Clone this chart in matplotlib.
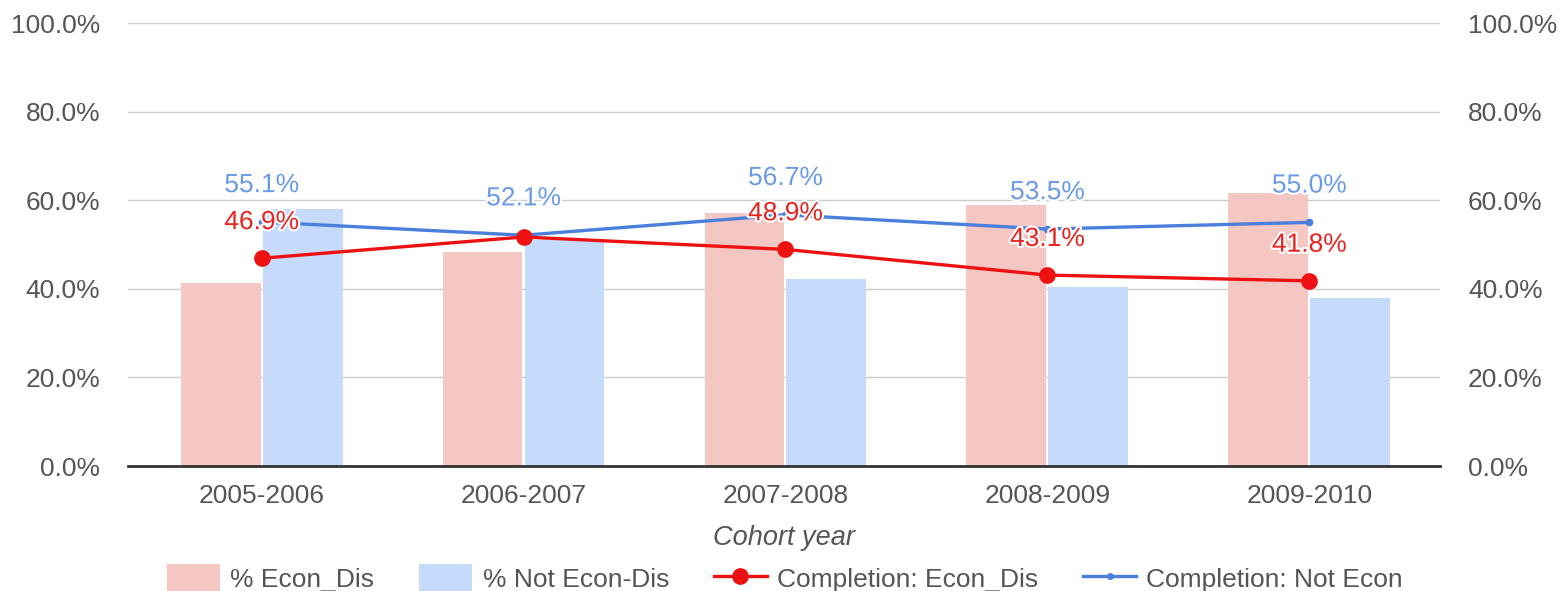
import matplotlib
matplotlib.use("Agg")
import matplotlib.pyplot as plt
import matplotlib.patheffects as pe
from matplotlib.patches import Patch
from matplotlib.lines import Line2D
import numpy as np

plt.rcParams['font.family'] = ['Liberation Sans', 'DejaVu Sans']

categories = ["2005-2006", "2006-2007", "2007-2008", "2008-2009", "2009-2010"]
pct_econ_dis = [41.4, 48.4, 57.2, 58.9, 61.6]
pct_not_econ = [58.0, 51.0, 42.2, 40.5, 37.9]
comp_econ_dis = [46.9, 51.7, 48.9, 43.1, 41.8]
comp_not_econ = [55.1, 52.1, 56.7, 53.5, 55.0]
show_econ_label = [True, False, True, True, True]

C_BAR_RED = "#f4c7c3"
C_BAR_BLUE = "#c6dafc"
C_LINE_RED = "#ee1111"
C_LINE_BLUE = "#4a7fdc"
C_LBL_RED = "#e8231f"
C_LBL_BLUE = "#6c9be6"
TXT = "#555555"
FS = 19

fig = plt.figure(figsize=(15.62, 5.91), dpi=100)
ax = fig.add_axes([0.082, 0.2115, 0.840, 0.7495])
x = np.arange(len(categories))
w = 0.305

ax.bar(x - w / 2 - 0.004, pct_econ_dis, w, color=C_BAR_RED, zorder=2)
ax.bar(x + w / 2 + 0.004, pct_not_econ, w, color=C_BAR_BLUE, zorder=2)

ax.plot(x, comp_not_econ, color=C_LINE_BLUE, lw=2.4, marker='o', ms=4.5, zorder=3)
ax.plot(x, comp_econ_dis, color=C_LINE_RED, lw=2.4, marker='o', ms=11, zorder=4)

halo = [pe.withStroke(linewidth=3, foreground='white')]
for i in range(len(categories)):
    ax.annotate(f"{comp_not_econ[i]:.1f}%", (x[i], comp_not_econ[i]), xytext=(0, 26.5),
                textcoords='offset points', ha='center', va='center', fontsize=FS,
                color=C_LBL_BLUE, path_effects=halo, zorder=5)
    if show_econ_label[i]:
        ax.annotate(f"{comp_econ_dis[i]:.1f}%", (x[i], comp_econ_dis[i]), xytext=(0, 26),
                    textcoords='offset points', ha='center', va='center', fontsize=FS,
                    color=C_LBL_RED, path_effects=halo, zorder=6)

ax.set_xlim(-0.51, 4.5)
ax.set_ylim(0, 100)
yt = [0, 20, 40, 60, 80, 100]
ax.set_yticks(yt)
ax.set_yticklabels([f"{v:.1f}%" for v in yt])
ax.yaxis.grid(True, color="#cccccc", lw=1)
ax.set_axisbelow(True)
ax.set_xticks(x)
ax.set_xticklabels(categories)
ax.tick_params(axis='both', length=0, labelsize=FS, colors=TXT)
ax.tick_params(axis='x', pad=13)
ax.tick_params(axis='y', pad=20)
for s in ['top', 'right', 'left']:
    ax.spines[s].set_visible(False)
ax.spines['bottom'].set_color('#333333')
ax.spines['bottom'].set_linewidth(2)
ax.spines['bottom'].set_zorder(7)

ax2 = ax.twinx()
ax2.set_ylim(0, 100)
ax2.set_yticks(yt)
ax2.set_yticklabels([f"{v:.1f}%" for v in yt])
ax2.tick_params(axis='y', length=0, labelsize=FS, colors=TXT, pad=20)
for s in ['top', 'right', 'left', 'bottom']:
    ax2.spines[s].set_visible(False)

ax.set_xlabel("Cohort year", fontsize=FS + 0.5, style='italic', color=TXT, labelpad=12)

handles = [
    Patch(facecolor=C_BAR_RED, edgecolor='none'),
    Patch(facecolor=C_BAR_BLUE, edgecolor='none'),
    Line2D([], [], color=C_LINE_RED, lw=2.4, marker='o', ms=11),
    Line2D([], [], color=C_LINE_BLUE, lw=2.4, marker='o', ms=4),
]
labels = ["% Econ_Dis", "% Not Econ-Dis", "Completion: Econ_Dis", "Completion: Not Econ"]
fig.legend(handles, labels, loc='center', bbox_to_anchor=(0.5026, 1 - 578 / 591), ncol=4,
           frameon=False, fontsize=FS, handlelength=2.0, handleheight=1.15,
           columnspacing=1.7, handletextpad=0.4, labelcolor=TXT, borderpad=0)

fig.savefig("out.png", dpi=100)
